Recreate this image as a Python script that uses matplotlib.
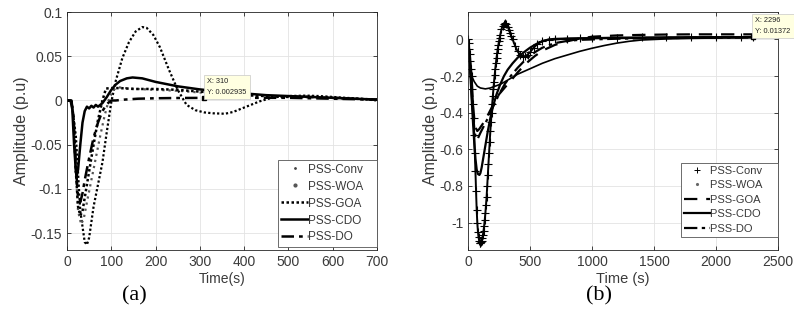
import numpy as np
import matplotlib as mpl
mpl.use('Agg')
import matplotlib.pyplot as plt
from matplotlib.lines import Line2D

plt.rcParams['font.family'] = ['Liberation Sans', 'DejaVu Sans']
plt.rcParams['axes.unicode_minus'] = False

#*******************************************************************************
# (a), time in s, amplitude in p.u
t_conv_a = [0, 10, 20, 30, 40, 45, 50, 60, 70, 80, 90, 100, 110, 125, 140, 155,
            170, 180, 195, 210, 230, 250, 270, 290, 310, 330, 357, 375, 395, 415,
            435, 455, 475, 500, 540, 570, 600, 630, 660, 700]
y_conv_a = [0, 0, -0.04, -0.125, -0.16, -0.163, -0.155, -0.12, -0.095, -0.07,
            -0.035, -0.002, 0.022, 0.048, 0.066, 0.078, 0.083, 0.082, 0.074, 0.06,
            0.035, 0.012, -0.005, -0.011, -0.0135, -0.0145, -0.015, -0.013, -0.009,
            -0.005, -0.001, 0.002, 0.004, 0.005, 0.0055, 0.005, 0.004, 0.003, 0.002, 0.0]

t_woa_a = [0, 10, 15, 20, 25, 32, 38, 45, 55, 65, 75, 85, 95, 105, 115, 130, 160,
           200, 250, 300, 350, 400, 450, 500, 550, 600, 650, 700]
y_woa_a = [0, 0, -0.02, -0.08, -0.125, -0.14, -0.133, -0.115, -0.09, -0.065, -0.04,
           -0.017, 0.002, 0.012, 0.015, 0.014, 0.013, 0.012, 0.011, 0.009, 0.008,
           0.006, 0.005, 0.004, 0.004, 0.003, 0.002, 0.001]

t_goa_a = [0, 10, 15, 20, 25, 30, 35, 40, 50, 60, 70, 80, 88, 100, 120, 150, 200,
           250, 300, 350, 400, 450, 500, 550, 600, 650, 700]
y_goa_a = [0, 0, -0.02, -0.08, -0.12, -0.13, -0.125, -0.11, -0.08, -0.05, -0.022,
           0.0, 0.0135, 0.014, 0.014, 0.013, 0.013, 0.012, 0.01, 0.008, 0.006, 0.005,
           0.004, 0.004, 0.003, 0.002, 0.001]

t_cdo_a = [0, 8, 12, 16, 20, 22, 25, 30, 35, 40, 45, 50, 55, 60, 65, 70, 75, 80, 90,
           100, 110, 120, 135, 148, 170, 200, 250, 300, 350, 400, 450, 500, 550,
           600, 650, 700]
y_cdo_a = [0, 0, -0.01, -0.05, -0.08, -0.085, -0.078, -0.05, -0.025, -0.012, -0.007,
           -0.009, -0.006, -0.008, -0.005, -0.007, -0.005, -0.003, 0.004, 0.012,
           0.018, 0.022, 0.025, 0.026, 0.025, 0.021, 0.016, 0.0125, 0.01, 0.008,
           0.006, 0.005, 0.004, 0.003, 0.002, 0.001]

t_do_a = [0, 10, 15, 20, 25, 30, 35, 40, 50, 60, 70, 80, 90, 100, 110, 130, 160,
          200, 250, 310, 400, 500, 600, 700]
y_do_a = [0, 0, -0.02, -0.075, -0.11, -0.115, -0.105, -0.09, -0.065, -0.042, -0.025,
          -0.012, -0.004, 0.0, 0.0, 0.001, 0.002, 0.0025, 0.0028, 0.002935, 0.003,
          0.003, 0.002, 0.001]

#*******************************************************************************
# (b)
t_conv_b = [0, 5, 10, 15, 20, 25, 30, 35, 40, 45, 50, 55, 60, 65, 70, 75, 80, 85,
            90, 95, 100, 105, 110, 115, 120, 125, 130, 135, 140, 145, 150, 155, 160,
            165, 170, 175, 180, 185, 190, 195, 200, 205, 210, 215, 220, 225, 230,
            235, 240, 245, 250, 255, 260, 270, 280, 290, 300, 310, 320, 330, 340,
            350, 360, 380, 400, 420, 440, 460, 480, 500, 530, 560, 600, 650, 700,
            800, 900, 1000, 1200, 1400, 1600, 1800, 2000, 2200, 2296]
y_conv_b = [0, -0.02, -0.05, -0.08, -0.12, -0.16, -0.2, -0.27, -0.35, -0.43, -0.52,
            -0.62, -0.72, -0.83, -0.93, -1.0, -1.05, -1.08, -1.1, -1.11, -1.113,
            -1.108, -1.1, -1.085, -1.07, -1.045, -1.02, -0.985, -0.95, -0.905,
            -0.86, -0.8, -0.74, -0.68, -0.62, -0.56, -0.5, -0.45, -0.4, -0.355,
            -0.31, -0.27, -0.23, -0.195, -0.16, -0.13, -0.1, -0.075, -0.05, -0.03,
            -0.01, 0.008, 0.025, 0.055, 0.075, 0.087, 0.09, 0.085, 0.07, 0.053,
            0.035, 0.017, 0.0, -0.035, -0.065, -0.085, -0.095, -0.093, -0.083,
            -0.07, -0.045, -0.025, -0.008, -0.002, 0.0, 0.004, 0.006, 0.008, 0.01,
            0.011, 0.012, 0.013, 0.0135, 0.0137, 0.01372]

t_woa_b = [0, 10, 20, 30, 50, 75, 100, 140, 180, 220, 260, 300, 350, 400, 500, 600,
           700, 800, 900, 1000, 1100, 1200, 1300, 1400, 1600, 1800, 2000, 2200, 2296]
y_woa_b = [0, -0.1, -0.17, -0.2, -0.23, -0.255, -0.265, -0.27, -0.265, -0.255,
           -0.245, -0.23, -0.21, -0.19, -0.16, -0.13, -0.105, -0.085, -0.065,
           -0.048, -0.033, -0.02, -0.01, -0.003, 0.003, 0.006, 0.008, 0.009, 0.01]

t_goa_b = [0, 10, 20, 30, 40, 50, 60, 75, 90, 110, 140, 170, 200, 250, 300, 340,
           400, 470, 540, 610, 700, 800, 900, 1000, 1200, 1400, 1600, 1800, 2000,
           2200, 2296]
y_goa_b = [0, -0.07, -0.16, -0.27, -0.36, -0.43, -0.48, -0.5, -0.49, -0.47, -0.44,
           -0.4, -0.36, -0.3, -0.26, -0.23, -0.18, -0.13, -0.09, -0.058, -0.03,
           -0.01, 0.005, 0.015, 0.022, 0.025, 0.027, 0.028, 0.028, 0.028, 0.028]

t_cdo_b = [0, 10, 20, 30, 40, 50, 60, 70, 80, 92, 100, 110, 120, 140, 160, 180, 200,
           230, 260, 290, 320, 360, 400, 450, 500, 550, 600, 650, 700, 800, 1000,
           1200, 1500, 1800, 2100, 2296]
y_cdo_b = [0, -0.08, -0.2, -0.33, -0.45, -0.56, -0.65, -0.71, -0.735, -0.74, -0.73,
           -0.7, -0.66, -0.58, -0.5, -0.43, -0.37, -0.3, -0.245, -0.2, -0.165,
           -0.13, -0.1, -0.07, -0.045, -0.025, -0.01, 0.0, 0.003, 0.005, 0.007,
           0.008, 0.009, 0.01, 0.011, 0.012]

t_do_b = [0, 10, 20, 30, 40, 50, 60, 70, 80, 100, 130, 160, 200, 250, 300, 350, 400,
          450, 500, 550, 600, 700, 800, 900, 1000, 1200, 1500, 1800, 2100, 2296]
y_do_b = [0, -0.08, -0.18, -0.3, -0.4, -0.48, -0.53, -0.545, -0.54, -0.51, -0.47,
          -0.43, -0.37, -0.3, -0.24, -0.195, -0.155, -0.12, -0.09, -0.065, -0.045,
          -0.02, -0.008, -0.002, 0.0, 0.004, 0.007, 0.009, 0.01, 0.011]

names = ['PSS-Conv', 'PSS-WOA', 'PSS-GOA', 'PSS-CDO', 'PSS-DO']
yticks_a = [0.1, 0.05, 0, -0.05, -0.1, -0.15]
ylabels_a = ['0.1', '0.05', '0', '-0.05', '-0.1', '-0.15']
yticks_b = [0, -0.2, -0.4, -0.6, -0.8, -1]
ylabels_b = ['0', '-0.2', '-0.4', '-0.6', '-0.8', '-1']

TXT = '#3a3a3a'

#*******************************************************************************
def matlab_axes(ax):
    ax.grid(True, color='#e3e3e3', lw=0.6)
    ax.set_axisbelow(True)
    ax.tick_params(direction='in', top=True, right=True, length=3, width=0.6,
                   labelsize=10, colors='#262626', labelcolor=TXT)
    for s in ax.spines.values():
        s.set_linewidth(0.6)
        s.set_color('#262626')

#*******************************************************************************
def datatip(ax, x, y, txt):
    ax.plot([x], [y], 's', color='k', ms=3, zorder=6)
    ax.annotate(txt, xy=(x, y), xytext=(2, 1.5), textcoords='offset points',
                ha='left', va='bottom', fontsize=5.3, color='#222222', linespacing=1.7,
                bbox=dict(boxstyle='square,pad=0.45', fc='#ffffe1', ec='#c8c8c8', lw=0.5),
                zorder=7)

#*******************************************************************************
def legend(ax, handles, anchor, size, spacing, blanks):
    # trailing blanks give the wide right margin of the MATLAB legend box
    leg = ax.legend(handles=handles, labels=[n + blanks for n in names],
                    loc='lower right', bbox_to_anchor=anchor,
                    bbox_transform=ax.figure.transFigure,
                    fontsize=size, handlelength=2.3, handletextpad=0.0,
                    borderpad=0.3, labelspacing=spacing, fancybox=False, framealpha=1,
                    edgecolor='#555555', borderaxespad=0)
    leg.get_frame().set_linewidth(0.6)
    for t in leg.get_texts():
        t.set_color(TXT)

#*******************************************************************************
def panel_a(ax):
    ax.plot(t_conv_a, y_conv_a, color='k', lw=1.6, ls=(0, (1, 1)))
    ax.plot(t_woa_a, y_woa_a, color='#555555', lw=1.6, ls=(0, (1, 1.8)))
    ax.plot(t_goa_a, y_goa_a, color='k', lw=1.8, ls=(0, (1, 1)))
    ax.plot(t_cdo_a, y_cdo_a, color='k', lw=1.8, ls='-')
    ax.plot(t_do_a, y_do_a, color='k', lw=1.8, ls=(0, (5, 2, 1.5, 2)))
    matlab_axes(ax)
    ax.set_xlim(0, 700)
    ax.set_ylim(-0.169, 0.1)
    ax.set_xticks(range(0, 701, 100))
    ax.set_yticks(yticks_a)
    ax.set_yticklabels(ylabels_a)
    ax.set_xlabel('Time(s)', fontsize=10, color=TXT, labelpad=2)
    ax.set_ylabel('Amplitude (p.u)', fontsize=11.5, color=TXT, labelpad=1)
    datatip(ax, 310, 0.002935, 'X: 310\nY: 0.002935')
    h = [Line2D([], [], color='#444444', marker='.', ms=2, ls='None'),
         Line2D([], [], color='#555555', marker='.', ms=4, ls='None'),
         Line2D([], [], color='k', lw=1.8, ls=(0, (1, 1))),
         Line2D([], [], color='k', lw=1.8, ls='-'),
         Line2D([], [], color='k', lw=1.8, ls=(0, (5, 2, 1.5, 2)))]
    legend(ax, h, (376.5 / 794, 1 - 247 / 324), 8.5, 0.42, '   ')

#*******************************************************************************
def panel_b(ax):
    ax.plot(t_conv_b, y_conv_b, color='k', lw=1.4, marker='+', ms=6, mew=0.8)
    ax.plot(t_woa_b, y_woa_b, color='k', lw=1.2, ls='-')
    ax.plot(t_goa_b, y_goa_b, color='k', lw=1.6, ls=(0, (6, 4)))
    ax.plot(t_cdo_b, y_cdo_b, color='k', lw=1.6, ls='-')
    ax.plot(t_do_b, y_do_b, color='k', lw=1.6, ls=(0, (6, 2, 1.5, 2)))
    matlab_axes(ax)
    ax.set_xlim(0, 2500)
    ax.set_ylim(-1.15, 0.15)
    ax.set_xticks(range(0, 2501, 500))
    ax.set_yticks(yticks_b)
    ax.set_yticklabels(ylabels_b)
    ax.set_xlabel('Time (s)', fontsize=10.5, color=TXT, labelpad=2)
    ax.set_ylabel('Amplitude (p.u)', fontsize=11.5, color=TXT, labelpad=1)
    datatip(ax, 2296, 0.01372, 'X: 2296\nY: 0.01372')
    h = [Line2D([], [], color='k', marker='+', ms=4, mew=0.7, ls='None'),
         Line2D([], [], color='#666666', marker='.', ms=2.5, ls='None'),
         Line2D([], [], color='k', lw=1.6, ls=(0, (6, 4))),
         Line2D([], [], color='k', lw=1.6, ls='-'),
         Line2D([], [], color='k', lw=1.6, ls=(0, (6, 2, 1.5, 2)))]
    legend(ax, h, (777.5 / 794, 1 - 237 / 324), 8, 0.4, '    ')

#*******************************************************************************
if __name__ == "__main__":
    fig = plt.figure(figsize=(7.94, 3.24), dpi=100)
    ax_a = fig.add_axes([67 / 794, 1 - 250 / 324, 310 / 794, 238 / 324])
    ax_b = fig.add_axes([468 / 794, 1 - 250 / 324, 310 / 794, 238 / 324])
    panel_a(ax_a)
    panel_b(ax_b)
    serif = ['Liberation Serif', 'DejaVu Serif']
    fig.text(134 / 794, 1 - 296 / 324, '(a)', family=serif, fontsize=16,
             ha='center', va='center')
    fig.text(599 / 794, 1 - 296 / 324, '(b)', family=serif, fontsize=16,
             ha='center', va='center')
    fig.savefig('out.png', dpi=100)
